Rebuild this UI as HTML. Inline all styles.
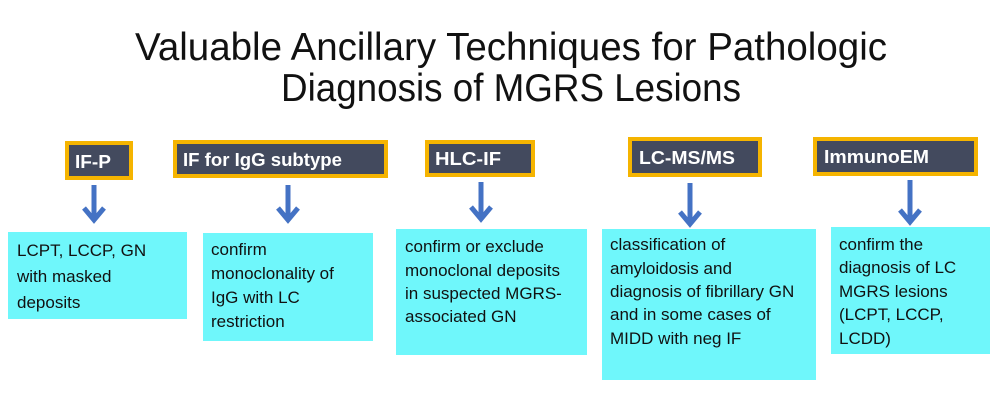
<!DOCTYPE html>
<html><head><meta charset="utf-8"><style>
html,body{margin:0;padding:0;background:#fff;width:1000px;height:406px;overflow:hidden}
svg{display:block}
text{font-family:"Liberation Sans",sans-serif}
.t{font-size:17px;fill:#111}
.h{font-size:18px;fill:#fff;font-weight:bold}
</style></head><body>
<svg width="1000" height="406" viewBox="0 0 1000 406" xmlns="http://www.w3.org/2000/svg">
<rect width="1000" height="406" fill="#fff"/>
<text x="511" y="60" text-anchor="middle" font-size="39" fill="#111" textLength="752" lengthAdjust="spacingAndGlyphs">Valuable Ancillary Techniques for Pathologic</text>
<text x="511" y="101" text-anchor="middle" font-size="39" fill="#111" textLength="460" lengthAdjust="spacingAndGlyphs">Diagnosis of MGRS Lesions</text>

<g stroke="#f5b400" stroke-width="4" fill="#434a5e">
<rect x="67" y="143" width="64" height="35"/>
<rect x="175" y="142" width="211" height="34"/>
<rect x="427" y="142" width="106" height="33"/>
<rect x="630" y="139" width="130" height="36"/>
<rect x="815" y="139" width="161" height="35"/>
</g>
<text class="h" x="75" y="168" textLength="36" lengthAdjust="spacingAndGlyphs">IF-P</text>
<text class="h" x="183" y="166" textLength="159" lengthAdjust="spacingAndGlyphs">IF for IgG subtype</text>
<text class="h" x="435" y="165" textLength="66" lengthAdjust="spacingAndGlyphs">HLC-IF</text>
<text class="h" x="639" y="164" textLength="96" lengthAdjust="spacingAndGlyphs">LC-MS/MS</text>
<text class="h" x="824" y="163" textLength="105" lengthAdjust="spacingAndGlyphs">ImmunoEM</text>

<g stroke="#4472c4" stroke-width="5" fill="none" stroke-linecap="butt">
<path d="M94 185V220M84 208L94 220L104 208"/>
<path d="M288 185V220M278 208L288 220L298 208"/>
<path d="M481 182V219M471 207L481 219L491 207"/>
<path d="M690 183V224M680 212L690 224L700 212"/>
<path d="M910 180V222M900 210L910 222L920 210"/>
</g>

<g fill="#6ff7fb">
<rect x="8" y="232" width="179" height="87"/>
<rect x="203" y="233" width="170" height="108"/>
<rect x="396" y="229" width="191" height="126"/>
<rect x="602" y="229" width="214" height="151"/>
<rect x="831" y="227" width="159" height="127"/>
</g>
<text class="t" x="17" y="256">LCPT, LCCP, GN</text>
<text class="t" x="17" y="282">with masked</text>
<text class="t" x="17" y="308">deposits</text>

<text class="t" x="211" y="255">confirm</text>
<text class="t" x="211" y="279">monoclonality of</text>
<text class="t" x="211" y="303">IgG with LC</text>
<text class="t" x="211" y="327">restriction</text>

<text class="t" x="405" y="252">confirm or exclude</text>
<text class="t" x="405" y="276">monoclonal deposits</text>
<text class="t" x="405" y="299">in suspected MGRS-</text>
<text class="t" x="405" y="322">associated GN</text>

<text class="t" x="610" y="250">classification of</text>
<text class="t" x="610" y="274">amyloidosis and</text>
<text class="t" x="610" y="297">diagnosis of fibrillary GN</text>
<text class="t" x="610" y="320">and in some cases of</text>
<text class="t" x="610" y="344">MIDD with neg IF</text>

<text class="t" x="839" y="250">confirm the</text>
<text class="t" x="839" y="273">diagnosis of LC</text>
<text class="t" x="839" y="297">MGRS lesions</text>
<text class="t" x="839" y="320">(LCPT, LCCP,</text>
<text class="t" x="839" y="344">LCDD)</text>
</svg>
</body></html>
